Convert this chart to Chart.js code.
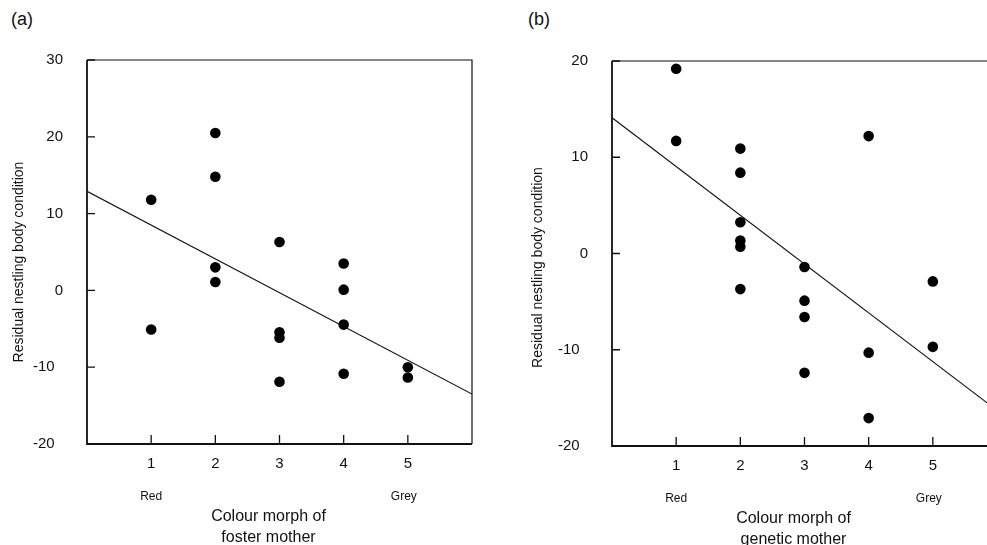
<!DOCTYPE html>
<html>
<head>
<meta charset="utf-8">
<script src="https://cdn.jsdelivr.net/npm/chart.js@4.4.1/dist/chart.umd.min.js"></script>
<style>
	html, body { margin: 0; padding: 0; width: 987px; height: 545px; overflow: hidden; background: #fff; }
	.panel { position: absolute; top: 0; }
	.tag { position: absolute; top: 9px; font: 18px "Liberation Sans", Arial, sans-serif; color: #111; }
</style>
</head>
<body>
<div class="tag" style="left:11px">(a)</div>
<div class="tag" style="left:528px">(b)</div>
<canvas id="fosterChart" class="panel" style="left:0" width="493" height="545"></canvas>
<canvas id="geneticChart" class="panel" style="left:493px" width="525" height="545"></canvas>
<script>
// (a) foster mother
const fosterX = [1, 1, 2, 2, 2, 2, 3, 3, 3, 3, 4, 4, 4, 4, 5, 5];
const fosterY = [11.8, -5.1, 20.5, 14.8, 3.0, 1.1, 6.3, -5.45, -6.15, -11.9, 3.5, 0.1, -4.45, -10.85, -10.0, -11.35];
const fosterFit = [12.9, -13.5];

// (b) genetic mother
const geneticX = [1, 1, 2, 2, 2, 2, 2, 2, 3, 3, 3, 3, 4, 4, 4, 5, 5];
const geneticY = [19.2, 11.7, 10.9, 8.4, 3.25, 1.35, 0.7, -3.7, -1.4, -4.9, -6.6, -12.4, 12.2, -10.3, -17.1, -2.9, -9.7];
const geneticFit = [14.1, -16.3];

const fitX = [0, 6];
const morphTicks = [1, 2, 3, 4, 5];
const morphEnds = ['Red', 'Grey'];
const yTitle = 'Residual nestling body condition';

const FONT = '"Liberation Sans", Arial, sans-serif';
const INK = '#111';

// axis box, inward ticks and the extra labels
const decor = {
	id: 'decor',
	afterDatasetsDraw(chart, args, opts) {
		const ctx = chart.ctx;
		const a = chart.chartArea;
		const xs = chart.scales.x;
		const ys = chart.scales.y;
		ctx.save();
		ctx.strokeStyle = INK;
		ctx.lineWidth = 1.3;
		ctx.beginPath();
		ys.ticks.forEach(t => {
			const p = ys.getPixelForValue(t.value);
			ctx.moveTo(a.left, p);
			ctx.lineTo(a.left + 8, p);
		});
		morphTicks.forEach(v => {
			const p = xs.getPixelForValue(v);
			ctx.moveTo(p, a.bottom);
			ctx.lineTo(p, a.bottom - 9);
		});
		ctx.stroke();

		ctx.lineWidth = 1.2;
		ctx.beginPath();
		ctx.moveTo(a.left, a.top);
		ctx.lineTo(a.right, a.top);
		ctx.lineTo(a.right, a.bottom);
		ctx.stroke();
		ctx.lineWidth = 1.8;
		ctx.beginPath();
		ctx.moveTo(a.left, a.top);
		ctx.lineTo(a.left, a.bottom);
		ctx.lineTo(a.right, a.bottom);
		ctx.stroke();

		ctx.fillStyle = INK;
		ctx.textAlign = 'center';
		ctx.textBaseline = 'middle';
		ctx.font = '12px ' + FONT;
		ctx.fillText(morphEnds[0], xs.getPixelForValue(1), a.bottom + 53);
		ctx.fillText(morphEnds[1], xs.getPixelForValue(5) - 4, a.bottom + 53);

		ctx.font = '16px ' + FONT;
		const cx = xs.getPixelForValue(3) - 11;
		opts.xTitle.forEach((s, i) => ctx.fillText(s, cx, a.bottom + 72.5 + 21.5 * i));

		ctx.font = '14px ' + FONT;
		ctx.translate(opts.yTitleX, (a.top + a.bottom) / 2 + opts.yTitleDy);
		ctx.rotate(-Math.PI / 2);
		ctx.fillText(yTitle, 0, 0);
		ctx.restore();
	}
};

function toPoints(xs, ys) {
	return xs.map((x, i) => ({ x: x, y: ys[i] }));
}

function makeChart(id, xs, ys, fit, yMax, layout) {
	const ctx = document.getElementById(id).getContext('2d');
	return new Chart(ctx, {
		type: 'scatter',
		data: {
			datasets: [{
				data: toPoints(xs, ys),
				backgroundColor: '#000',
				borderWidth: 0,
				pointRadius: 5.3
			}, {
				data: toPoints(fitX, fit),
				showLine: true,
				borderColor: INK,
				borderWidth: 1.2,
				pointRadius: 0,
				fill: false
			}]
		},
		options: {
			responsive: false,
			animation: false,
			devicePixelRatio: 1,
			layout: { padding: { top: layout.top, right: 21, bottom: 0, left: 0 } },
			scales: {
				x: {
					type: 'linear',
					min: 0,
					max: 6,
					afterFit: s => { s.height = layout.xHeight; },
					grid: { display: false },
					border: { display: false },
					ticks: {
						stepSize: 1,
						padding: 3,
						color: INK,
						font: { family: FONT, size: 15 },
						callback: v => (v >= 1 && v <= 5) ? v : ''
					}
				},
				y: {
					min: -20,
					max: yMax,
					afterFit: s => { s.width = layout.yWidth; },
					grid: { display: false },
					border: { display: false },
					ticks: {
						stepSize: 10,
						padding: 16,
						color: INK,
						font: { family: FONT, size: 15 },
						callback: v => v < 0 ? v + '  ' : '' + v
					}
				}
			},
			plugins: {
				legend: { display: false },
				tooltip: { enabled: false },
				decor: layout.decor
			}
		},
		plugins: [decor]
	});
}

makeChart('fosterChart', fosterX, fosterY, fosterFit, 30, {
	top: 60, xHeight: 101, yWidth: 87,
	decor: { xTitle: ['Colour morph of', 'foster mother'], yTitleX: 19.5, yTitleDy: 10 }
});

makeChart('geneticChart', geneticX, geneticY, geneticFit, 20, {
	top: 61, xHeight: 99, yWidth: 119,
	decor: { xTitle: ['Colour morph of', 'genetic mother'], yTitleX: 45, yTitleDy: 14 }
});
</script>
</body>
</html>
